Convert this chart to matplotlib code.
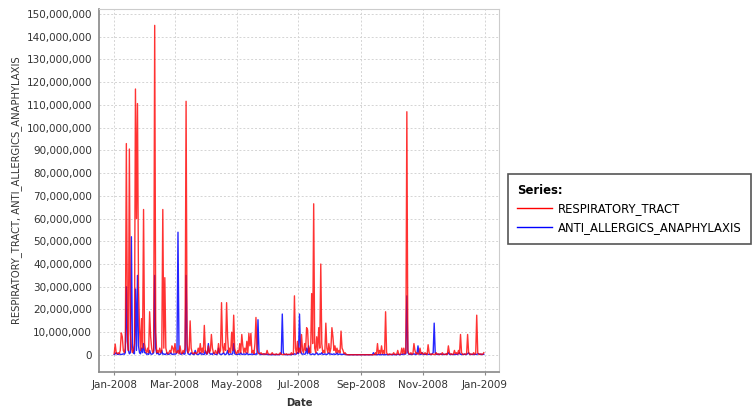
import numpy as np
import pandas as pd
import matplotlib
matplotlib.use('Agg')
import matplotlib.pyplot as plt
import matplotlib.dates as mdates
from matplotlib.ticker import FuncFormatter, MultipleLocator

# daily values for 2008, in millions, one list per month
red_months = [
  [0.5, 4.8, 1, 0.5, 1, 0.5, 2, 9.7, 8, 2, 1, 3, 93, 20, 2, 90.6, 10, 3, 1, 2, 5, 117, 60, 110.6, 30, 12, 2, 16, 3, 64, 5],
  [2, 1, 3, 1, 19, 8, 3, 1, 2, 145, 10, 1, 2, 1, 3, 1, 2, 64, 3, 34, 3, 1, 0.5, 1, 2, 1, 4, 3, 1],
  [5, 1, 1, 2, 0.5, 4, 1, 0.5, 2, 1, 3, 111.6, 5, 1, 2, 15, 3, 1, 0.5, 1, 1, 0.5, 1, 3, 1, 5, 1, 3, 1, 13, 2],
  [1, 0.5, 4, 1, 2, 9, 3, 1, 0.5, 2, 1, 0.5, 5, 1, 2, 23, 4, 1, 5, 2, 23, 8, 1, 3, 1, 10, 2, 17.5, 3, 1],
  [0.5, 2, 1, 5, 1, 9, 4, 1, 3, 1, 6, 1, 9.5, 4, 9.5, 1, 2, 0.5, 5, 16.5, 3, 1, 0.5, 0.5, 1, 0.3, 0.5, 0.3, 0.5, 0.3, 2],
  [0.5, 0.3, 0.2, 0.3, 1, 0.3, 0.2, 0.2, 0.5, 0.2, 0.2, 0.3, 1, 0.2, 0.2, 0.2, 0.3, 0.2, 0.5, 0.2, 0.2, 0.3, 0.2, 1, 0.3, 0.5, 26, 3, 0.5, 6],
  [1, 3, 1, 9, 2, 1, 5, 2, 12, 11, 1, 3, 1, 27, 5, 66.5, 3, 1, 8, 2, 12, 3, 40, 5, 1, 2, 1, 14, 3, 1, 5],
  [1, 3, 12, 8, 2, 4, 1, 3, 1, 2, 1, 10.5, 3, 2, 0.5, 1, 0.2, 0.1, 0.1, 0.1, 0.1, 0.1, 0.1, 0.1, 0.1, 0.1, 0.1, 0.1, 0.1, 0.1, 0.1],
  [0.1, 0.1, 0.1, 0.1, 0.1, 0.1, 0.1, 0.1, 0.1, 0.1, 0.1, 0.1, 0.1, 0.1, 1, 0.2, 5, 0.5, 2, 0.5, 4, 0.5, 2, 0.5, 19, 1, 0.2, 0.2, 0.5, 0.2],
  [0.2, 0.3, 1, 0.2, 0.3, 0.2, 2, 0.3, 0.2, 0.5, 3, 0.5, 3, 0.5, 1, 107, 2, 0.5, 0.3, 1, 0.3, 0.5, 5, 2, 0.5, 1, 0.3, 0.5, 3, 0.5, 1],
  [0.3, 0.5, 1, 0.3, 0.2, 4.5, 1, 0.3, 0.2, 0.5, 0.2, 0.3, 0.2, 1, 0.3, 0.5, 0.2, 0.3, 0.2, 1, 0.3, 0.2, 0.3, 0.5, 0.2, 4, 1, 0.3, 0.5, 0.2],
  [0.3, 2, 0.5, 1, 0.3, 2, 0.5, 9, 1, 0.3, 0.2, 0.5, 0.3, 0.5, 9, 1, 0.3, 0.5, 0.2, 0.3, 1, 0.3, 0.5, 17.5, 1, 0.3, 0.2, 0.5, 0.2, 0.3, 1],
]

blue_months = [
  [0.2, 0.5, 1, 0.3, 0.2, 0.5, 0.3, 0.2, 0.3, 0.5, 0.3, 1, 30, 6, 2, 0.5, 1, 52, 4, 1, 0.5, 29, 2, 35, 4, 1, 0.5, 3, 1, 5, 1],
  [1, 0.3, 0.5, 0.2, 2, 0.5, 0.3, 0.5, 1, 35, 3, 0.5, 1, 0.3, 0.2, 0.5, 2, 0.3, 0.5, 0.2, 0.3, 1, 0.2, 0.3, 0.5, 1, 0.3, 0.2, 0.5],
  [0.3, 0.5, 1, 54, 2, 0.5, 0.3, 0.5, 1, 0.3, 0.5, 35, 2, 0.5, 0.3, 0.2, 1, 0.5, 0.3, 0.2, 2, 0.5, 0.3, 0.2, 0.5, 1, 0.3, 0.5, 0.2, 0.3, 2],
  [0.3, 0.5, 5, 1, 0.3, 0.5, 0.2, 1, 0.5, 0.3, 0.2, 0.5, 3, 0.5, 0.3, 0.2, 0.5, 1, 0.3, 0.2, 0.5, 2, 0.3, 0.2, 0.5, 0.3, 0.5, 5, 0.5, 0.3],
  [0.3, 0.2, 0.5, 0.2, 1, 0.3, 0.2, 0.5, 0.3, 0.2, 1, 0.3, 0.2, 0.3, 0.2, 0.5, 0.2, 0.3, 0.2, 0.5, 0.3, 15.5, 1, 0.3, 0.2, 0.2, 0.3, 0.5, 0.2, 0.2, 0.3],
  [0.2, 0.1, 0.2, 0.1, 0.2, 0.1, 0.2, 0.1, 0.2, 0.1, 0.2, 0.1, 0.3, 0.5, 18, 1, 0.2, 0.1, 0.2, 0.1, 0.2, 0.1, 0.2, 0.1, 0.3, 0.2, 0.5, 0.3, 0.5, 1],
  [0.5, 18, 2, 0.5, 0.3, 0.5, 0.3, 0.5, 3, 0.5, 4, 0.5, 0.3, 0.2, 0.5, 0.3, 0.2, 0.5, 1, 0.3, 0.2, 0.5, 0.3, 1, 0.3, 0.2, 0.5, 0.3, 0.2, 0.5, 1],
  [0.3, 0.5, 0.2, 0.3, 0.5, 0.2, 0.3, 1, 0.2, 0.3, 0.5, 0.2, 0.3, 0.2, 0.5, 0.2, 0.3, 0.1, 0.1, 0.1, 0.1, 0.1, 0.1, 0.1, 0.1, 0.1, 0.1, 0.1, 0.1, 0.1, 0.1],
  [0.1, 0.1, 0.1, 0.1, 0.1, 0.1, 0.1, 0.1, 0.1, 0.1, 0.1, 0.1, 1, 0.2, 0.1, 0.2, 0.1, 0.2, 0.1, 0.2, 0.1, 0.2, 0.1, 0.2, 0.1, 0.2, 0.1, 0.2, 0.1, 0.2],
  [0.2, 0.1, 0.2, 0.1, 0.2, 0.1, 0.3, 0.2, 0.1, 0.2, 0.3, 0.2, 0.5, 0.3, 0.5, 26, 1, 0.3, 0.2, 0.3, 0.2, 0.3, 0.5, 0.3, 0.2, 0.5, 4, 0.5, 0.3, 0.2, 1],
  [0.3, 0.2, 0.3, 0.2, 0.5, 0.3, 0.2, 0.3, 0.2, 0.5, 1, 14, 1, 0.3, 0.2, 0.3, 0.2, 0.5, 0.3, 0.2, 0.3, 0.2, 0.3, 0.2, 0.5, 1, 0.3, 0.2, 0.3, 0.2],
  [0.2, 0.3, 0.2, 0.3, 0.2, 0.5, 1, 0.3, 0.2, 0.3, 0.2, 0.3, 0.2, 0.3, 0.5, 1, 0.3, 0.2, 0.3, 0.2, 0.3, 0.2, 0.3, 0.2, 0.5, 0.5, 0.3, 0.2, 0.3, 0.2, 0.3],
]

series_names = ['RESPIRATORY_TRACT', 'ANTI_ALLERGICS_ANAPHYLAXIS']

red = np.concatenate([np.array(m, dtype=float) for m in red_months]) * 1e6
blue = np.concatenate([np.array(m, dtype=float) for m in blue_months]) * 1e6
dates = pd.date_range('2008-01-01', periods=len(red), freq='D')

plt.rcParams['font.family'] = 'DejaVu Sans'

fig = plt.figure(figsize=(7.54, 4.08), dpi=100)
ax = fig.add_axes([99/754, 1-372/408, 400/754, 363/408])

l_blue, = ax.plot(dates, blue, color='#0000ff', lw=1.0, alpha=0.85, zorder=3)
l_red, = ax.plot(dates, red, color='#ff0000', lw=1.0, alpha=0.8, zorder=4)

ax.set_xlim(pd.Timestamp('2007-12-17'), pd.Timestamp('2009-01-15'))
ax.set_ylim(-7.5e6, 152.2e6)
ax.yaxis.set_major_locator(MultipleLocator(10e6))
ax.yaxis.set_major_formatter(FuncFormatter(lambda v, p: '{:,.0f}'.format(v)))
ax.xaxis.set_major_locator(mdates.MonthLocator(bymonth=[1, 3, 5, 7, 9, 11]))
ax.xaxis.set_major_formatter(mdates.DateFormatter('%b-%Y'))

ax.grid(True, color='#d4d4d4', linestyle=(0, (2, 2)), linewidth=0.7)
ax.set_axisbelow(True)
for s in ['top', 'right']:
  ax.spines[s].set_color('#cccccc')
  ax.spines[s].set_linewidth(0.8)
for s in ['left', 'bottom']:
  ax.spines[s].set_color('#888888')
  ax.spines[s].set_linewidth(1.2)

ax.tick_params(axis='both', labelsize=7.5, colors='#888888', labelcolor='#333333', length=2, width=0.8)
ax.tick_params(axis='y', length=0, pad=5)
ax.set_ylabel('RESPIRATORY_TRACT, ANTI_ALLERGICS_ANAPHYLAXIS', fontsize=7.2, color='#333333', labelpad=3)
ax.set_xlabel('Date', fontsize=7.2, fontweight='bold', color='#333333', labelpad=6)

leg = fig.legend([l_red, l_blue], series_names, loc='center left', bbox_to_anchor=(508/754, 1-209/408),
                 title='Series:', alignment='left', fontsize=8.4,
                 title_fontproperties={'weight': 'bold', 'size': 8.4},
                 handlelength=3.0, handletextpad=0.5, borderpad=0.8, labelspacing=0.5,
                 borderaxespad=0, fancybox=False, framealpha=1, edgecolor='#555555')
leg.get_frame().set_linewidth(1.2)
for line in leg.get_lines():
  line.set_alpha(1)
  line.set_linewidth(1.0)

fig.savefig('out.png', dpi=100)
